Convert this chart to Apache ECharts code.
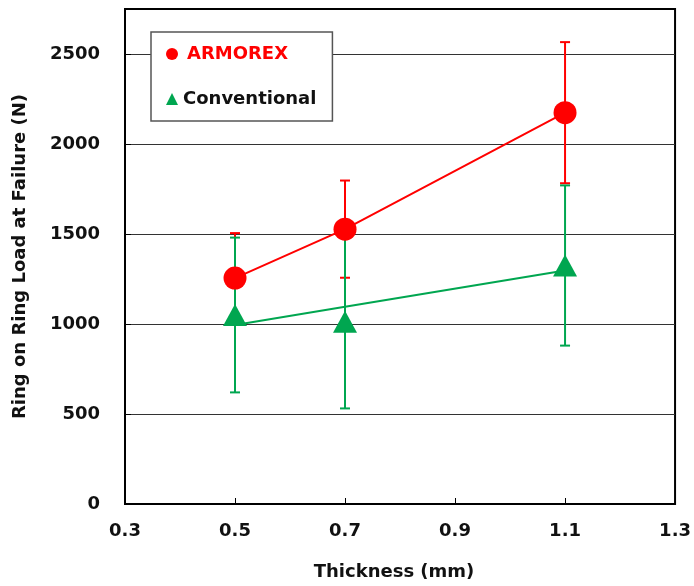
<!DOCTYPE html>
<html>
<head>
<meta charset="utf-8">
<script src="https://cdn.jsdelivr.net/npm/echarts@6/dist/echarts.min.js"></script>
<style>
html,body{margin:0;padding:0;background:#fff;}
#chart{width:694px;height:586px;}
</style>
</head>
<body>
<div id="chart"></div>
<script>
// ---- data ----
const thickness = [0.5, 0.7, 1.1];
const armorexMean = [1255, 1527, 2174];
const armorexErr = [250, 270, 392];
const conventionalMean = [1050, 1012, 1325];
const conventionalErr = [430, 481, 445];
const xTicks = [0.3, 0.5, 0.7, 0.9, 1.1, 1.3];
const yTicks = [0, 500, 1000, 1500, 2000, 2500];

const RED = '#FF0000';
const GREEN = '#00A650';
const FONT = 'DejaVu Sans';

// linear trend line (least squares) for Conventional, as in the reference
function linFit(xs, ys) {
  const n = xs.length;
  const mx = xs.reduce((a, b) => a + b, 0) / n;
  const my = ys.reduce((a, b) => a + b, 0) / n;
  let sxy = 0, sxx = 0;
  for (let i = 0; i < n; i++) { sxy += (xs[i] - mx) * (ys[i] - my); sxx += (xs[i] - mx) ** 2; }
  const b = sxy / sxx, a = my - b * mx;
  return xs.map(x => [x, a + b * x]);
}

const armorexPts = thickness.map((x, i) => [x, armorexMean[i]]);
const convPts = thickness.map((x, i) => [x, conventionalMean[i]]);
const armorexBars = thickness.map((x, i) => [x, armorexMean[i] - armorexErr[i], armorexMean[i] + armorexErr[i]]);
const convBars = thickness.map((x, i) => [x, conventionalMean[i] - conventionalErr[i], conventionalMean[i] + conventionalErr[i]]);

function errRender(color) {
  return function (params, api) {
    const x = api.value(0), lo = api.value(1), hi = api.value(2);
    const pL = api.coord([x, lo]), pH = api.coord([x, hi]);
    const w = 5;
    const st = { stroke: color, lineWidth: 2 };
    return {
      type: 'group',
      children: [
        { type: 'line', shape: { x1: pL[0], y1: pL[1], x2: pH[0], y2: pH[1] }, style: st },
        { type: 'line', shape: { x1: pL[0] - w, y1: pL[1], x2: pL[0] + w, y2: pL[1] }, style: st },
        { type: 'line', shape: { x1: pH[0] - w, y1: pH[1], x2: pH[0] + w, y2: pH[1] }, style: st }
      ]
    };
  };
}

const chart = echarts.init(document.getElementById('chart'));
chart.setOption({
  animation: false,
  backgroundColor: '#fff',
  grid: { left: 125, right: 15, top: 9, bottom: 82, show: true, borderColor: '#000', borderWidth: 2, containLabel: false },
  legend: {
    left: 151, top: 32,
    orient: 'vertical',
    padding: [13, 16, 13, 15],
    itemGap: 27,
    itemWidth: 12, itemHeight: 12,
    borderColor: '#555', borderWidth: 1.5,
    backgroundColor: '#fff',
    selectedMode: false,
    textStyle: { fontFamily: FONT, fontWeight: 'bold', fontSize: 18, color: '#111' },
    data: [
      { name: 'ARMOREX', icon: 'circle', textStyle: { color: RED, padding: [0, 0, 0, 4] } },
      { name: 'Conventional', icon: 'triangle', textStyle: { color: '#111' } }
    ]
  },
  xAxis: {
    type: 'value', min: 0.3, max: 1.3,
    name: 'Thickness (mm)', nameLocation: 'middle', nameGap: 59,
    nameTextStyle: { fontFamily: FONT, fontWeight: 'bold', fontSize: 18, color: '#111', padding: [0, 12, 0, 0] },
    axisLine: { show: true, onZero: false, lineStyle: { color: '#000', width: 2 } },
    axisTick: { show: true, inside: true, length: 6, customValues: xTicks, lineStyle: { color: '#000', width: 1 } },
    axisLabel: { customValues: xTicks, margin: 18, fontFamily: FONT, fontWeight: 'bold', fontSize: 18, color: '#111',
      formatter: v => v.toFixed(1) },
    splitLine: { show: false }
  },
  yAxis: {
    type: 'value', min: 0, max: 2750, interval: 500,
    name: 'Ring on Ring Load at Failure (N)', nameLocation: 'middle', nameGap: 96, nameRotate: 90,
    nameTextStyle: { fontFamily: FONT, fontWeight: 'bold', fontSize: 18, color: '#111' },
    axisLine: { show: true, lineStyle: { color: '#000', width: 2 } },
    axisTick: { show: true, inside: true, length: 6, customValues: yTicks, lineStyle: { color: '#000', width: 1 } },
    axisLabel: { customValues: yTicks, margin: 25, fontFamily: FONT, fontWeight: 'bold', fontSize: 18, color: '#111',
      formatter: v => String(v) },
    splitLine: { show: true, lineStyle: { color: '#333', width: 1 } }
  },
  series: [
    { name: 'ARMOREX err', type: 'custom', z: 2, renderItem: errRender(RED), encode: { x: 0, y: [1, 2] }, data: armorexBars },
    { name: 'Conventional err', type: 'custom', z: 3, renderItem: errRender(GREEN), encode: { x: 0, y: [1, 2] }, data: convBars },
    { name: 'Conventional trend', type: 'line', z: 4, data: linFit(thickness, conventionalMean), symbol: 'none',
      lineStyle: { color: GREEN, width: 2 }, itemStyle: { color: GREEN } },
    { name: 'ARMOREX', type: 'line', z: 5, data: armorexPts, symbol: 'circle', symbolSize: 23,
      lineStyle: { color: RED, width: 2 }, itemStyle: { color: RED } },
    { name: 'Conventional', type: 'scatter', z: 6, data: convPts, symbol: 'triangle', symbolSize: [24, 22],
      itemStyle: { color: GREEN, opacity: 1 } }
  ]
});
</script>
</body>
</html>
